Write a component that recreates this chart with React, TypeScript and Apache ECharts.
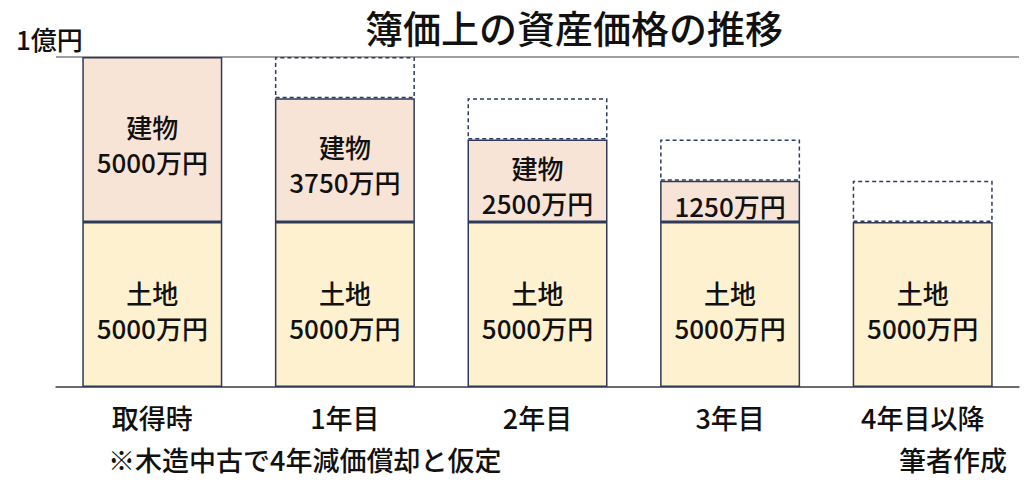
import React, { useEffect, useRef } from 'react'
import * as echarts from 'echarts'

// 単位: 万円
const periods = ['取得時', '1年目', '2年目', '3年目', '4年目以降']
const landValues = [5000, 5000, 5000, 5000, 5000]
const buildingValues: (number | string)[] = [5000, 3750, 2500, 1250, '-']
const depreciatedValues: (number | string)[] = ['-', 1250, 1250, 1250, 1250]

const FONT = '"Noto Sans CJK JP", "Noto Sans", sans-serif'
const BORDER = '#2e3a57'
const W = 500

const App: React.FC = () => {
  const chartRef = useRef<HTMLDivElement>(null)

  useEffect(() => {
    if (!chartRef.current) return
    const chart = echarts.init(chartRef.current, undefined, { renderer: 'svg' })

    const option: echarts.EChartsOption = {
      animation: false,
      backgroundColor: '#fff',
      textStyle: { fontFamily: FONT },
      title: [
        {
          text: '簿価上の資産価格の推移',
          left: 569,
          top: 2,
          textAlign: 'center',
          textStyle: { fontSize: 38, fontWeight: W, color: '#111', fontFamily: FONT },
        },
        {
          text: '1億円',
          left: 11,
          top: 20,
          textStyle: { fontSize: 26, fontWeight: W, color: '#111', fontFamily: FONT },
        },
      ],
      graphic: [
        {
          type: 'text',
          left: 108,
          top: 446,
          style: { text: '※木造中古で4年減価償却と仮定', fontSize: 27, fontWeight: W, fill: '#111', fontFamily: FONT },
        },
        {
          type: 'text',
          right: 22,
          top: 446,
          style: { text: '筆者作成', fontSize: 27, fontWeight: W, fill: '#111', fontFamily: FONT },
        },
      ],
      grid: { left: 56, right: 10, top: 57, bottom: 97 },
      xAxis: {
        type: 'category',
        data: periods,
        axisLine: { lineStyle: { color: '#5a5a5a', width: 1.5 } },
        axisTick: { show: false },
        axisLabel: { fontSize: 27, fontWeight: W, color: '#111', margin: 17, fontFamily: FONT },
      },
      yAxis: {
        type: 'value',
        min: 0,
        max: 10000,
        interval: 10000,
        axisLabel: { show: false },
        axisLine: { show: false },
        axisTick: { show: false },
        splitLine: { lineStyle: { color: '#a0a0a0', width: 2 } },
      },
      series: [
        {
          name: '土地',
          type: 'bar',
          stack: 'total',
          barWidth: 140,
          data: landValues,
          itemStyle: { color: '#fdf1cf', borderColor: BORDER, borderWidth: 1.5 },
          label: {
            show: true,
            position: 'inside',
            offset: [0, 5],
            fontSize: 26,
            fontWeight: W,
            lineHeight: 35,
            color: '#111',
            fontFamily: FONT,
            formatter: (p: any) => `土地\n${p.value}万円`,
          },
        },
        {
          name: '建物',
          type: 'bar',
          stack: 'total',
          barWidth: 140,
          data: buildingValues,
          itemStyle: { color: '#f8e4d6', borderColor: BORDER, borderWidth: 1.5 },
          label: {
            show: true,
            position: 'inside',
            offset: [0, 4],
            fontSize: 26,
            fontWeight: W,
            lineHeight: 35,
            color: '#111',
            fontFamily: FONT,
            formatter: (p: any) => (p.value <= 1250 ? `${p.value}万円` : `建物\n${p.value}万円`),
          },
        },
        {
          name: '償却分',
          type: 'bar',
          stack: 'total',
          barWidth: 140,
          data: depreciatedValues,
          itemStyle: {
            color: '#ffffff',
            borderColor: '#2f3b5c',
            borderWidth: 1.5,
            borderType: [4, 3],
          },
        },
      ],
    }

    chart.setOption(option)

    const handleResize = () => chart.resize()
    window.addEventListener('resize', handleResize)
    return () => {
      window.removeEventListener('resize', handleResize)
      chart.dispose()
    }
  }, [])

  return <div ref={chartRef} style={{ width: 1029, height: 484, margin: -8 }} />
}

export default App
